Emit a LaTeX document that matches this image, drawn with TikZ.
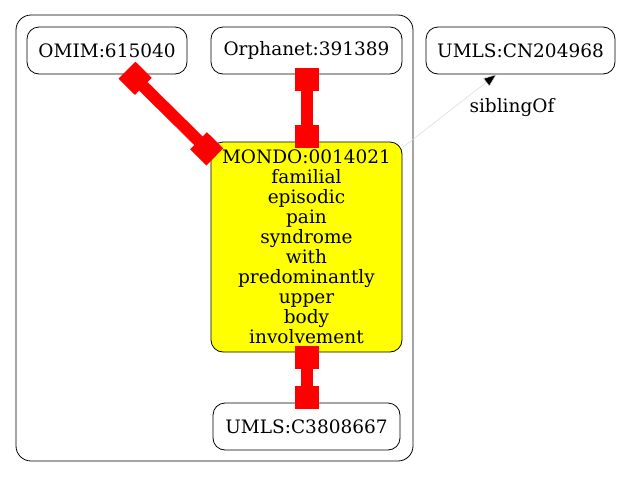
\documentclass[tikz,border=0pt]{standalone}
\usepackage{fontspec}
\setmainfont{DejaVu Serif}
\usetikzlibrary{arrows.meta,calc}
\definecolor{nodeyellow}{RGB}{255,255,0}
\definecolor{linkred}{RGB}{255,0,0}
\begin{document}
\begin{tikzpicture}[x=1pt,y=1pt,
  every node/.style={font=\fontsize{18.5}{20}\selectfont},
  gnode/.style={draw=black,line width=0.8pt,rounded corners=12pt,inner sep=0pt,align=center},
  redlink/.style={draw=linkred,line width=12pt,{Square[length=23pt,width=24pt,fill=linkred]}-{Square[length=23pt,width=24pt,fill=linkred]},shorten <=-6pt,shorten >=-6pt},
  sib/.style={draw=black!15,line width=0.5pt,-{Triangle[length=13pt,width=10pt,fill=black]}}]
\useasboundingbox (0,0) rectangle (622,-477);
\draw[line width=0.8pt,rounded corners=15pt] (16,-15) rectangle (413,-461);
\node[gnode,minimum width=160pt,minimum height=47pt] (omim) at (107,-50.5) {OMIM:615040};
\node[gnode,minimum width=191pt,minimum height=47pt] (orph) at (306.5,-50.5) {Orphanet:391389};
\node[gnode,minimum width=189pt,minimum height=47pt] (umlscn) at (520.5,-50.5) {UMLS:CN204968};
\node[gnode,fill=nodeyellow,minimum width=191pt,minimum height=210pt] (mondo) at (306.5,-247) {MONDO:0014021\\familial\\episodic\\pain\\syndrome\\with\\predominantly\\upper\\body\\involvement};
\node[gnode,minimum width=187pt,minimum height=47pt] (umlsc) at (306.5,-426.5) {UMLS:C3808667};
\draw[redlink] (omim) -- (mondo);
\draw[redlink] (orph.south) -- (mondo.north);
\draw[redlink] (mondo.south) -- (umlsc.north);
\coordinate (sibstart) at ($(mondo.north east)+(0,-6)$);
\coordinate (sibend) at ($(umlscn.south)+(-24,0)$);
\draw[sib] (sibstart) -- (sibend);
\node (siblbl) at (512,-108) {siblingOf};
\end{tikzpicture}
\end{document}
